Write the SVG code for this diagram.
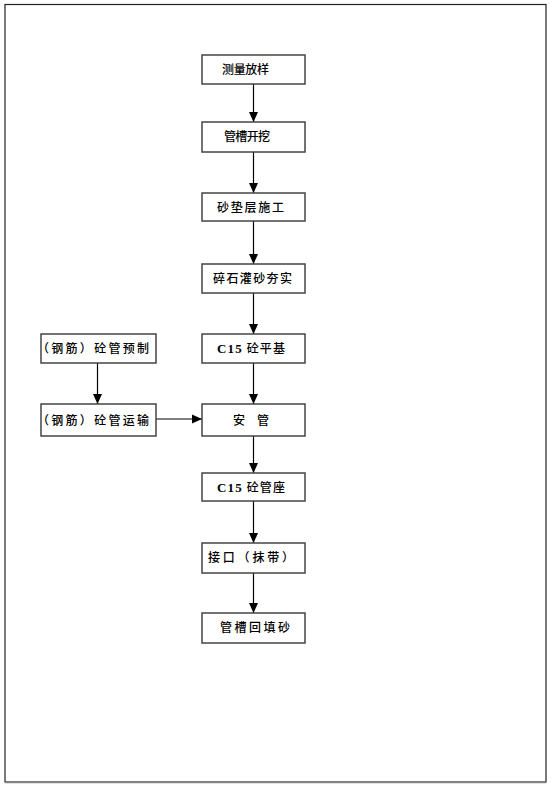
<svg xmlns="http://www.w3.org/2000/svg" width="553" height="790" viewBox="0 0 553 790">
<style>
.box{fill:#fff;stroke:#444;stroke-width:1.5}
.t{font-family:"Noto Sans CJK SC","Liberation Serif",serif;font-size:12px;fill:#000;font-weight:500}
.s{font-family:"Liberation Serif",serif;font-weight:bold;font-size:13px}
.c{stroke:#000;stroke-width:1.2;fill:none}
</style>
<defs>
<marker id="ah" markerUnits="userSpaceOnUse" markerWidth="10" markerHeight="10" refX="10" refY="4.5" orient="auto" viewBox="0 0 10 9">
<path d="M0,0 L10,4.5 L0,9 Z" fill="#000"/>
</marker>
</defs>
<rect x="0" y="0" width="553" height="790" fill="#fff"/>
<rect x="5" y="4.5" width="541" height="777.5" fill="none" stroke="#222" stroke-width="1.2"/>
<line x1="5" y1="782.5" x2="546" y2="782.5" stroke="#888" stroke-width="1.5"/>
<g id="connectors">
<line class="c" x1="253.5" y1="84" x2="253.5" y2="122" marker-end="url(#ah)"/>
<line class="c" x1="253.5" y1="152" x2="253.5" y2="193" marker-end="url(#ah)"/>
<line class="c" x1="253.5" y1="221" x2="253.5" y2="264" marker-end="url(#ah)"/>
<line class="c" x1="253.5" y1="293" x2="253.5" y2="334" marker-end="url(#ah)"/>
<line class="c" x1="253.5" y1="363" x2="253.5" y2="404" marker-end="url(#ah)"/>
<line class="c" x1="253.5" y1="436" x2="253.5" y2="473" marker-end="url(#ah)"/>
<line class="c" x1="253.5" y1="501" x2="253.5" y2="543" marker-end="url(#ah)"/>
<line class="c" x1="253.5" y1="573" x2="253.5" y2="613" marker-end="url(#ah)"/>
<line class="c" x1="97.5" y1="363" x2="97.5" y2="404" marker-end="url(#ah)"/>
<line class="c" x1="156" y1="419" x2="202" y2="419" marker-end="url(#ah)"/>
</g>
<g id="n1"><rect class="box" x="202" y="55" width="103" height="29"/><text class="t" x="222" y="74" textLength="47">测量放样</text></g>
<g id="n2"><rect class="box" x="202" y="122" width="103" height="30"/><text class="t" x="224" y="141" textLength="46">管槽开挖</text></g>
<g id="n3"><rect class="box" x="202" y="193" width="103" height="28"/><text class="t" x="217" y="211.5" textLength="67">砂垫层施工</text></g>
<g id="n4"><rect class="box" x="202" y="264" width="103" height="29"/><text class="t" x="213" y="283" textLength="79">碎石灌砂夯实</text></g>
<g id="n5"><rect class="box" x="202" y="334" width="103" height="29"/><text class="t" x="217" y="353" textLength="68"><tspan class="s">C15</tspan> 砼平基</text></g>
<g id="n6"><rect class="box" x="41" y="334" width="115" height="29"/><text class="t" x="37" y="353" textLength="112">（钢筋）砼管预制</text></g>
<g id="n7"><rect class="box" x="41" y="404" width="115" height="32"/><text class="t" x="37" y="424.5" textLength="112">（钢筋）砼管运输</text></g>
<g id="n8"><rect class="box" x="202" y="404" width="103" height="32"/><text class="t" x="233" y="424.5" textLength="36">安 管</text></g>
<g id="n9"><rect class="box" x="202" y="473" width="103" height="28"/><text class="t" x="217" y="491.5" textLength="68"><tspan class="s">C15</tspan> 砼管座</text></g>
<g id="n10"><rect class="box" x="202" y="543" width="103" height="30"/><text class="t" x="208" y="562" textLength="86">接口（抹带）</text></g>
<g id="n11"><rect class="box" x="202" y="613" width="103" height="30"/><text class="t" x="220" y="632" textLength="70">管槽回填砂</text></g>
</svg>
